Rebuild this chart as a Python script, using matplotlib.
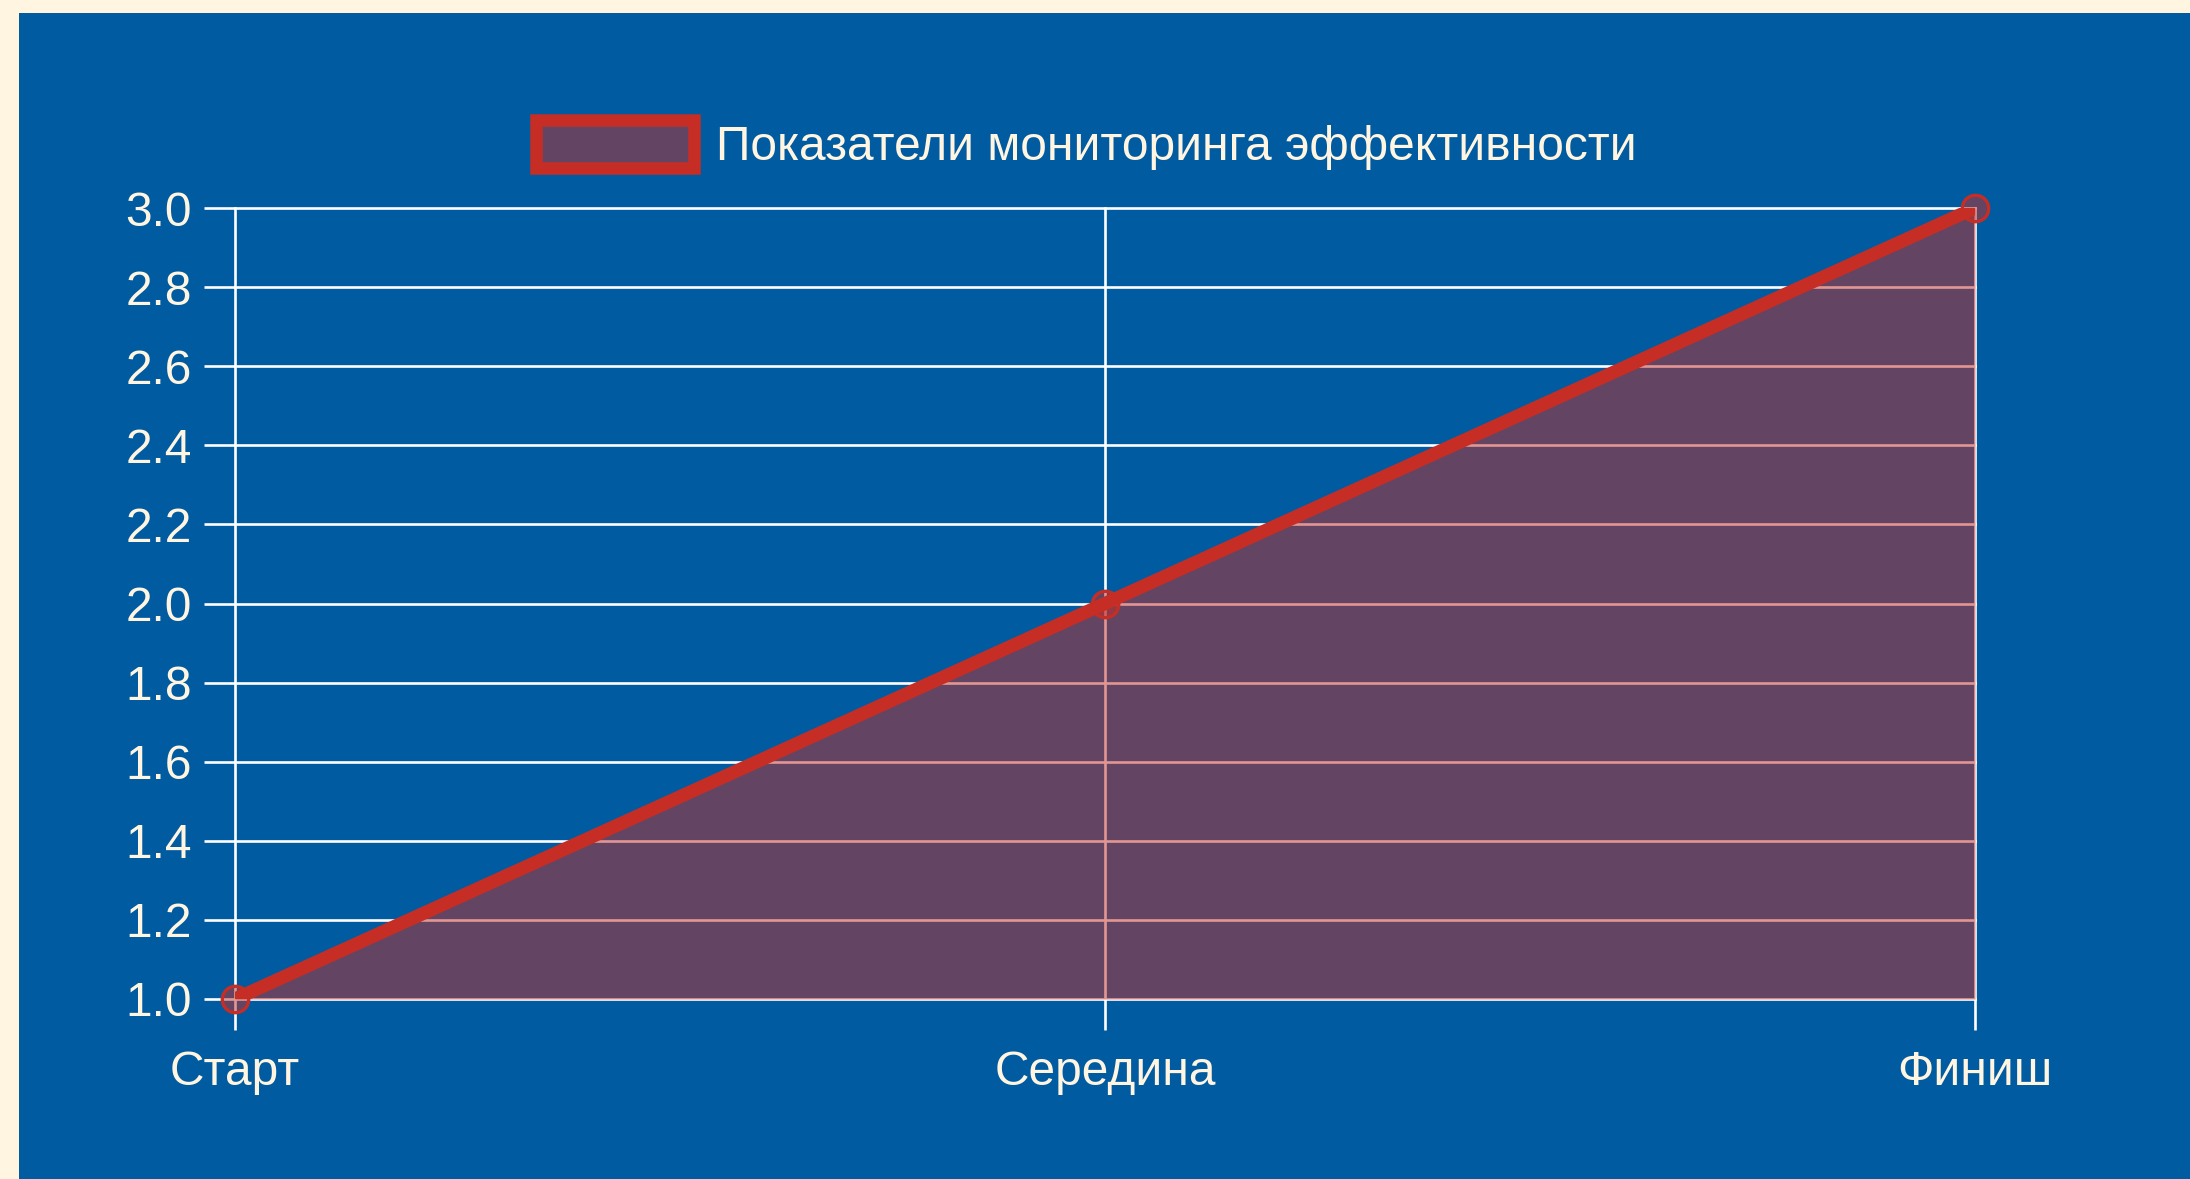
import matplotlib.pyplot as plt
from matplotlib.patches import Patch, Rectangle
from matplotlib.colors import to_rgba

plt.rcParams["font.family"] = ["Liberation Sans", "DejaVu Sans"]

# data
categories = ["Старт", "Середина", "Финиш"]
values = [1.0, 2.0, 3.0]
series_name = "Показатели мониторинга эффективности"
y_ticks = [1.0, 1.2, 1.4, 1.6, 1.8, 2.0, 2.2, 2.4, 2.6, 2.8, 3.0]

W, H = 2190, 1179
red = "#C62E25"
blue = "#005BA1"
cream = "#FFF5E1"
fill_rgba = to_rgba(red, 0.5)

fig = plt.figure(figsize=(W / 100, H / 100), dpi=100)
fig.patch.set_facecolor(cream)
# blue panel behind the chart
fig.add_artist(Rectangle((19 / W, 0), 1 - 19 / W, 1 - 13 / H,
                         transform=fig.transFigure, facecolor=blue,
                         edgecolor="none", zorder=0))

ax = fig.add_axes([235 / W, 1 - 999 / H, 1740 / W, 791 / H])
ax.set_facecolor("none")

x = list(range(len(categories)))
ax.fill_between(x, values, y_ticks[0], color=fill_rgba, linewidth=0, zorder=2)
ax.plot(x, values, color=red, lw=9.5, solid_capstyle="round", zorder=3)
ax.plot(x, values, linestyle="none", marker="o", ms=19,
        markerfacecolor=fill_rgba, markeredgecolor=red, mew=2.4, zorder=4,
        clip_on=False)

ax.set_xlim(0, len(categories) - 1)
ax.set_ylim(y_ticks[0], y_ticks[-1])
ax.set_xticks(x)
ax.set_xticklabels(categories)
ax.set_yticks(y_ticks)
ax.set_yticklabels([f"{v:.1f}" for v in y_ticks])

ax.set_axisbelow(True)
ax.grid(True, color="white", lw=1.9, zorder=1)
for gl in ax.get_xgridlines() + ax.get_ygridlines():
    gl.set_clip_on(False)
for s in ax.spines.values():
    s.set_visible(False)

ax.tick_params(axis="both", colors="white", length=22, width=1.9,
               labelsize=34.5, labelcolor=cream)
ax.tick_params(axis="y", pad=9)
ax.tick_params(axis="x", pad=15)

handle = Patch(facecolor=fill_rgba, edgecolor=red, linewidth=9)
leg = fig.legend(handles=[handle], labels=[series_name], loc="center",
                 bbox_to_anchor=(1086 / W, 1 - 145 / H), frameon=False,
                 fontsize=34.5, handlelength=3.3, handleheight=1.15,
                 handletextpad=0.45, borderpad=0)
for t in leg.get_texts():
    t.set_color(cream)

fig.savefig("out.png", dpi=100, facecolor=cream)
